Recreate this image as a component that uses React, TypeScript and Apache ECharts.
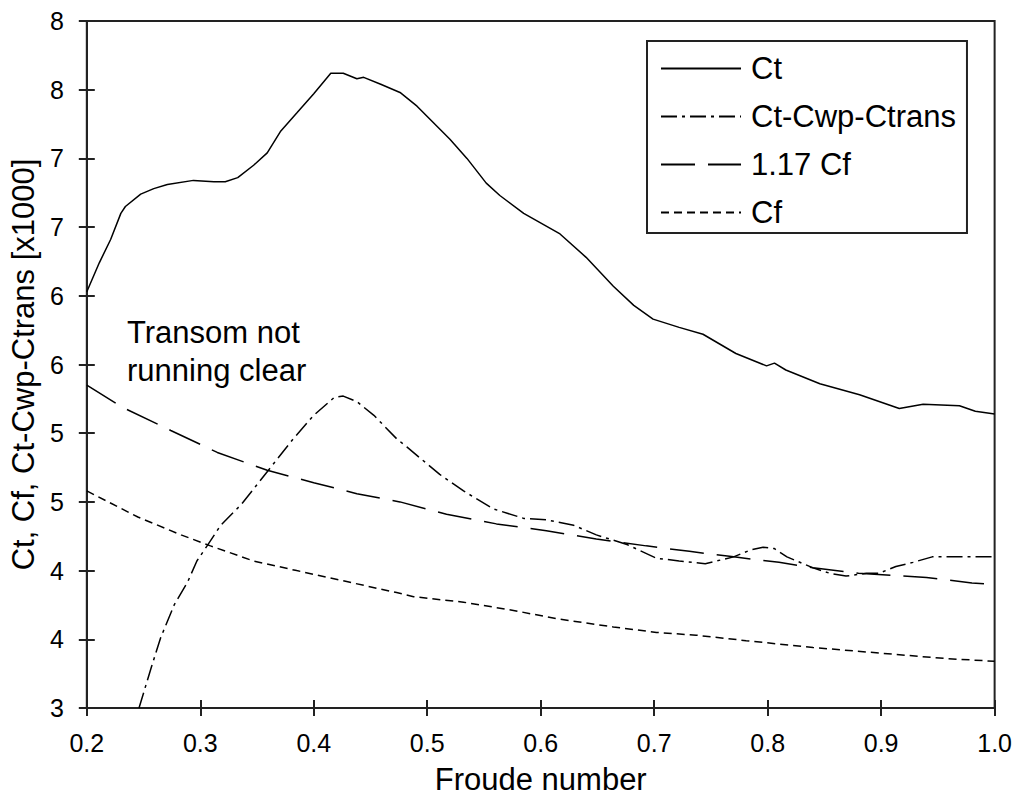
import React, { useEffect, useRef } from "react";
import * as echarts from "echarts";

// Froude number vs coefficient (x1000)
const ctData: [number, number][] = [
  [0.2, 6.03], [0.211, 6.24], [0.221, 6.41], [0.23, 6.6], [0.234, 6.65], [0.2475, 6.74],
  [0.259, 6.78], [0.271, 6.81], [0.294, 6.84], [0.312, 6.83], [0.322, 6.83], [0.333, 6.86],
  [0.347, 6.95], [0.359, 7.04], [0.371, 7.2], [0.385, 7.33], [0.4, 7.47], [0.415, 7.62],
  [0.426, 7.62], [0.438, 7.58], [0.444, 7.59], [0.459, 7.54], [0.476, 7.48], [0.491, 7.38],
  [0.52, 7.14], [0.535, 7.0], [0.552, 6.82], [0.564, 6.73], [0.585, 6.6], [0.617, 6.45],
  [0.64, 6.28], [0.664, 6.07], [0.682, 5.93], [0.699, 5.83], [0.722, 5.77], [0.743, 5.72],
  [0.772, 5.58], [0.799, 5.49], [0.806, 5.51], [0.816, 5.46], [0.846, 5.36], [0.881, 5.28],
  [0.916, 5.18], [0.937, 5.21], [0.969, 5.2], [0.983, 5.16], [1.0, 5.14],
];

const ctCwpCtransData: [number, number][] = [
  [0.246, 3.0], [0.257, 3.3], [0.265, 3.51], [0.277, 3.75], [0.289, 3.92], [0.297, 4.07],
  [0.306, 4.18], [0.318, 4.33], [0.336, 4.48], [0.359, 4.72], [0.382, 4.96], [0.4, 5.13],
  [0.418, 5.26], [0.426, 5.27], [0.438, 5.23], [0.453, 5.13], [0.473, 4.96], [0.482, 4.9],
  [0.511, 4.7], [0.532, 4.58], [0.558, 4.45], [0.585, 4.38], [0.605, 4.37], [0.629, 4.33],
  [0.649, 4.26], [0.676, 4.19], [0.702, 4.09], [0.722, 4.07], [0.745, 4.05], [0.77, 4.1],
  [0.785, 4.15], [0.796, 4.17], [0.806, 4.16], [0.817, 4.1], [0.84, 4.02], [0.855, 3.98],
  [0.869, 3.96], [0.887, 3.98], [0.898, 3.98], [0.913, 4.03], [0.928, 4.06], [0.945, 4.1],
  [0.957, 4.1], [0.986, 4.1], [1.0, 4.1],
];

const cf117Data: [number, number][] = [
  [0.2, 5.35], [0.231, 5.19], [0.274, 5.02], [0.315, 4.86], [0.359, 4.73], [0.4, 4.64],
  [0.438, 4.56], [0.476, 4.5], [0.517, 4.41], [0.561, 4.34], [0.605, 4.29], [0.649, 4.23],
  [0.693, 4.18], [0.731, 4.14], [0.77, 4.1], [0.81, 4.06], [0.84, 4.02], [0.88, 3.98],
  [0.94, 3.95], [0.98, 3.91], [1.0, 3.9],
];

const cfData: [number, number][] = [
  [0.2, 4.58], [0.245, 4.39], [0.283, 4.26], [0.309, 4.18], [0.347, 4.07], [0.385, 4.0],
  [0.429, 3.92], [0.473, 3.84], [0.488, 3.81], [0.532, 3.77], [0.576, 3.71], [0.614, 3.65],
  [0.664, 3.59], [0.702, 3.55], [0.737, 3.53], [0.781, 3.49], [0.84, 3.44], [0.898, 3.4],
  [0.957, 3.36], [1.0, 3.34],
];

const seriesNames = ["Ct", "Ct-Cwp-Ctrans", "1.17 Cf", "Cf"];
const xName = "Froude number";
const yName = "Ct, Cf, Ct-Cwp-Ctrans [x1000]";
const annotation = "Transom not\nrunning clear";

const FONT = '"Liberation Sans", Arial, sans-serif';
const INK = "#000";
const AXIS = "#222";

export default function App() {
  const ref = useRef<HTMLDivElement>(null);

  useEffect(() => {
    if (!ref.current) return;
    const chart = echarts.init(ref.current, undefined, { renderer: "svg" });

    const xRange = { min: 0.2, max: 1.0, interval: 0.1 };
    const yRange = { min: 3, max: 8, interval: 0.5 };

    const mkLine = (name: string, data: [number, number][], type: any) => ({
      name,
      type: "line",
      data,
      xAxisIndex: 0,
      yAxisIndex: 0,
      symbol: "none",
      smooth: false,
      lineStyle: { color: INK, width: 1.5, type },
      itemStyle: { color: INK },
      z: 3,
    });

    chart.setOption({
      animation: false,
      backgroundColor: "#fff",
      textStyle: { fontFamily: FONT, color: INK },
      grid: {
        left: 86,
        right: 20,
        top: 21,
        bottom: 89,
        show: true,
        borderColor: AXIS,
        borderWidth: 2,
        backgroundColor: "transparent",
      },
      legend: {
        orient: "vertical",
        left: 647,
        top: 41,
        padding: [12, 11, 5, 13],
        itemGap: 17,
        itemWidth: 80,
        itemHeight: 14,
        borderColor: AXIS,
        borderWidth: 2,
        backgroundColor: "#fff",
        data: seriesNames,
        itemStyle: { color: "transparent", borderColor: "transparent", borderWidth: 0, opacity: 0 },
        textStyle: { fontFamily: FONT, fontSize: 31, color: INK, padding: [0, 0, 0, 5] },
      },
      xAxis: [
        {
          type: "value",
          ...xRange,
          position: "bottom",
          name: xName,
          nameLocation: "middle",
          nameGap: 56,
          nameTextStyle: { fontFamily: FONT, fontSize: 31, color: INK },
          axisLine: { show: true, onZero: false, lineStyle: { color: AXIS, width: 2 } },
          axisTick: { show: true, inside: false, length: 8, lineStyle: { color: AXIS, width: 2 } },
          axisLabel: {
            fontFamily: FONT,
            fontSize: 25,
            color: INK,
            margin: 22,
            formatter: (v: number) => v.toFixed(1),
          },
          splitLine: { show: false },
        },
        {
          type: "value",
          ...xRange,
          position: "bottom",
          axisLine: { show: false, onZero: false },
          axisTick: { show: true, inside: true, length: 8, lineStyle: { color: AXIS, width: 2 } },
          axisLabel: { show: false },
          splitLine: { show: false },
        },
      ],
      yAxis: [
        {
          type: "value",
          ...yRange,
          position: "left",
          name: yName,
          nameLocation: "middle",
          nameRotate: 90,
          nameGap: 42,
          nameTextStyle: { fontFamily: FONT, fontSize: 31, color: INK },
          axisLine: { show: true, onZero: false, lineStyle: { color: AXIS, width: 2 } },
          axisTick: { show: true, inside: false, length: 8, lineStyle: { color: AXIS, width: 2 } },
          axisLabel: {
            fontFamily: FONT,
            fontSize: 25,
            color: INK,
            margin: 23,
            formatter: (v: number) => String(Math.round(v)),
          },
          splitLine: { show: false },
        },
        {
          type: "value",
          ...yRange,
          position: "left",
          axisLine: { show: false, onZero: false },
          axisTick: { show: true, inside: true, length: 8, lineStyle: { color: AXIS, width: 2 } },
          axisLabel: { show: false },
          splitLine: { show: false },
        },
      ],
      graphic: [
        {
          type: "text",
          left: 127,
          top: 313,
          style: {
            text: annotation,
            font: `31px ${FONT}`,
            fill: INK,
            lineHeight: 38,
          },
          z: 10,
        },
      ],
      series: [
        mkLine(seriesNames[0], ctData, "solid"),
        mkLine(seriesNames[1], ctCwpCtransData, [16, 5, 3, 5]),
        mkLine(seriesNames[2], cf117Data, [34, 13]),
        mkLine(seriesNames[3], cfData, [8, 5]),
      ],
    });

    return () => chart.dispose();
  }, []);

  return (
    <div
      ref={ref}
      style={{ position: "fixed", left: 0, top: 0, width: 1015, height: 800, background: "#fff" }}
    />
  );
}
